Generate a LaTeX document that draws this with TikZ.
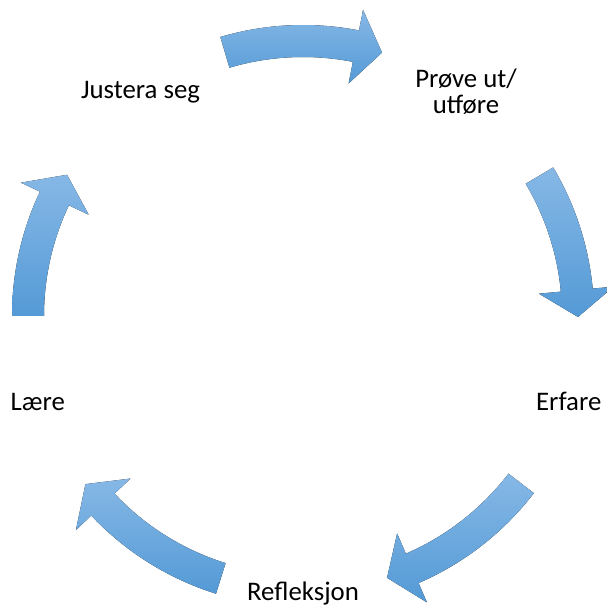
\documentclass[tikz,border=0pt]{standalone}
\usepackage{fontspec}
\setmainfont{Carlito}
\definecolor{atop}{RGB}{134,184,230}
\definecolor{amid}{RGB}{104,170,226}
\definecolor{abot}{RGB}{84,154,214}
\tikzset{
  cyc/.style={top color=atop, middle color=amid, bottom color=abot, draw=none},
  lbl/.style={font=\fontsize{26.8}{26}\selectfont, text=black, inner sep=0pt, align=center, anchor=base}
}
\begin{document}
\begin{tikzpicture}[x=1pt,y=1pt]
\useasboundingbox (0,0) rectangle (607,605);
\clip (0,0) rectangle (607,605);
\coordinate (C) at (303,289);
\foreach \t/\p in {106.5/73.3, 30.7/-0.2, -37.5/-72.2, -107.4/-142.3, 180/149.1} {
  \pgfmathsetmacro\h{\p+5.6}
  \fill[cyc] ([shift={(\t:259pt)}]C) arc[start angle=\t, end angle=\h, radius=259pt]
    -- ([shift={(\h:237pt)}]C) -- ([shift={(\p:275pt)}]C) -- ([shift={(\h:312pt)}]C)
    -- ([shift={(\h:291pt)}]C) arc[start angle=\h, end angle=\t, radius=291pt] -- cycle;
}
\node[lbl] (justera) at (140.5,506.7) {Justera seg};
\node[lbl] (prove) at (466,491.7) {Prøve ut/\\utføre};
\node[lbl] (erfare) at (568.7,194.3) {Erfare};
\node[lbl] (refleksjon) at (303,5) {Refleksjon};
\node[lbl] (laere) at (37.8,194.3) {Lære};
\end{tikzpicture}
\end{document}
